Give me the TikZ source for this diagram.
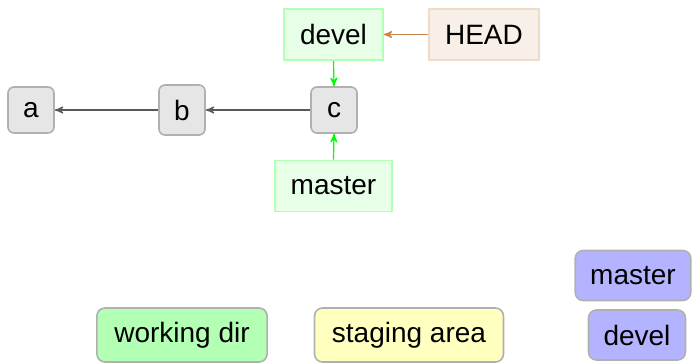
\documentclass[tikz,border=0pt]{standalone}
\usepackage{fontspec}
\setmainfont{Liberation Sans}
\usepackage{tikz}
\usetikzlibrary{%
   arrows,%
   positioning}

\definecolor{cmfill}{HTML}{E6E6E6}
\definecolor{cmdraw}{HTML}{B0B0B0}
\definecolor{brfill}{HTML}{E6FFE6}
\definecolor{brdraw}{HTML}{B3FFB3}
\definecolor{hdfill}{HTML}{F8F0E8}
\definecolor{hddraw}{HTML}{EEDCC8}
\definecolor{hdarrow}{HTML}{C8864A}
\definecolor{wdfill}{HTML}{B3FFB3}
\definecolor{safill}{HTML}{FFFFC0}
\definecolor{lgfill}{HTML}{B3B3FF}

\begin{document}
\begin{tikzpicture}
[x=0.5pt, y=-0.5pt, font=\fontsize{14}{16}\selectfont,
 typeCm/.style={rectangle,rounded corners=3pt,draw=cmdraw,fill=cmfill,line width=0.8pt,inner sep=0pt,minimum width=23pt,minimum height=23pt},
 typeBr/.style={rectangle,draw=brdraw,fill=brfill,line width=0.8pt,inner xsep=8pt,inner ysep=0pt,minimum height=25.5pt},
 typeHd/.style={rectangle,draw=hddraw,fill=hdfill,line width=0.8pt,inner xsep=8pt,inner ysep=0pt,minimum height=25.5pt},
 typeWd/.style={rectangle,rounded corners=4pt,draw=cmdraw,fill=wdfill,line width=0.8pt,inner xsep=8.7pt,inner ysep=0pt,minimum height=27pt},
 typeSa/.style={rectangle,rounded corners=4pt,draw=cmdraw,fill=safill,line width=0.8pt,inner xsep=8.7pt,inner ysep=0pt,minimum height=27pt},
 typeLg/.style={rectangle,rounded corners=4pt,draw=cmdraw,fill=lgfill,line width=0.8pt,inner xsep=7.5pt,inner ysep=0pt,minimum height=25pt},
 parent/.style={-stealth',draw=black!65,line width=0.6pt},
 ref/.style={-stealth',draw=green,line width=0.6pt},
 hdref/.style={-stealth',draw=hdarrow,line width=0.6pt}]
\useasboundingbox (0,0) rectangle (692,363);
\node[typeCm] (a)      at ( 31  ,110  ) {a};
\node[typeCm,minimum height=25pt] (b) at (182,110) {b};
\node[typeCm] (c)      at (334  ,110  ) {c};
\node[typeBr] (devel)  at (333.5, 34.5) {devel};
\node[typeHd] (HEAD)   at (484  , 34.5) {HEAD};
\node[typeBr] (master) at (333.5,186  ) {master};
\node[typeWd] (wd)     at (182  ,335  ) {working dir};
\node[typeSa] (sa)     at (409  ,335  ) {staging area};
\node[typeLg] (lgM)    at (633  ,275.5) {master};
\node[typeLg] (lgD)    at (637  ,335  ) {devel};
\path (c.west)      edge[parent] (b.east)
      (b.west)      edge[parent] (a.east)
      (devel.south) edge[ref]    (c.north)
      (master.north) edge[ref]   (c.south)
      (HEAD.west)   edge[hdref]  (devel.east);
\end{tikzpicture}
\end{document}
